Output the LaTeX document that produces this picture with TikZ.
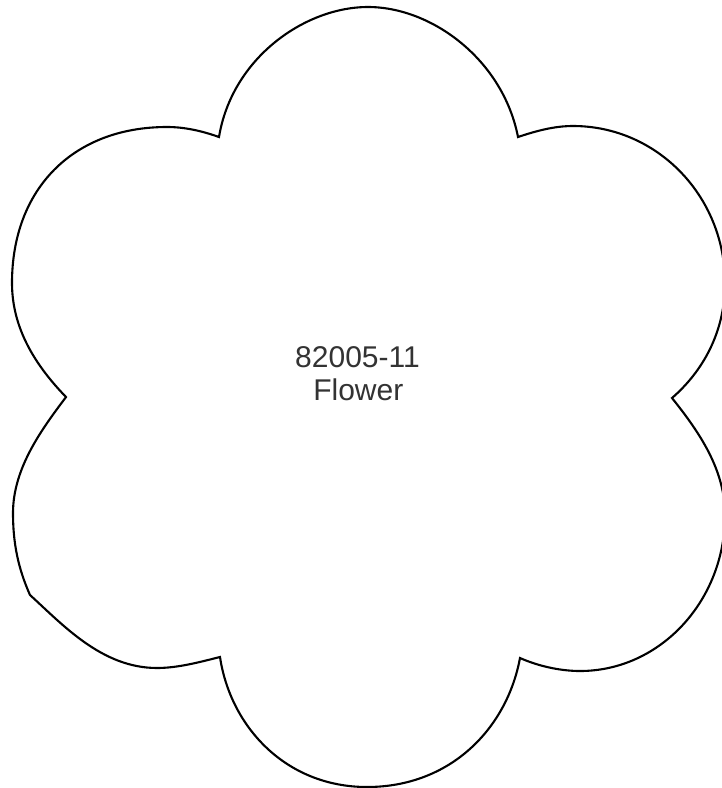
\documentclass[tikz,border=0pt]{standalone}
\usepackage{fontspec}
\setmainfont{Liberation Sans}
\begin{document}
\begin{tikzpicture}[x=1pt,y=-1pt,
  outline/.style={draw=black,line width=2.1pt,line join=miter},
  label/.style={font=\fontsize{30}{32}\selectfont,text=black!80,inner sep=0pt,anchor=base}]
\useasboundingbox (0,0) rectangle (722,788);
\fill[white] (0,0) rectangle (722,788);
% cusps
\coordinate (c1) at (219,137);
\coordinate (c2) at (518,137);
\coordinate (c3) at (672,398);
\coordinate (c4) at (520,658);
\coordinate (c5) at (220,657);
\coordinate (c6) at (66,397);
\coordinate (k)  at (30,595);
% petal extremes
\coordinate (t1) at (368,7);
\coordinate (t2) at (573,126);
\coordinate (r2) at (725,283);
\coordinate (r3) at (725,515);
\coordinate (b3) at (580,671);
\coordinate (b4) at (367,787);
\coordinate (b5) at (157,668);
\coordinate (l5) at (13,513);
\coordinate (l6) at (12,283);
\coordinate (t6) at (167,127);
\draw[outline]
  (c1) .. controls (232,58) and (305,7) .. (t1)
       .. controls (432,7) and (503,60) .. (c2)
       .. controls (536,131) and (554,126) .. (t2)
       .. controls (657,126) and (725,196) .. (r2)
       .. controls (725,333) and (702,372) .. (c3)
       .. controls (700,433) and (725,470) .. (r3)
       .. controls (725,601) and (660,671) .. (b3)
       .. controls (560,671) and (538,666) .. (c4)
       .. controls (507,728) and (451,787) .. (b4)
       .. controls (286,787) and (230.5,727) .. (c5)
       .. controls (200,662) and (178,668) .. (b5)
       .. controls (102,668) and (63,625) .. (k)
       .. controls (18,568) and (13,543) .. (l5)
       .. controls (13,468) and (42,429) .. (c6)
       .. controls (35,365) and (12,328) .. (l6)
       .. controls (12,189) and (73,127) .. (t6)
       .. controls (185,127) and (202,131) .. (c1)
  -- cycle;
\node[label] (code) at (357.5,367.7) {82005-11};
\node[label] (name) at (358.3,400.7) {Flower};
\end{tikzpicture}
\end{document}
